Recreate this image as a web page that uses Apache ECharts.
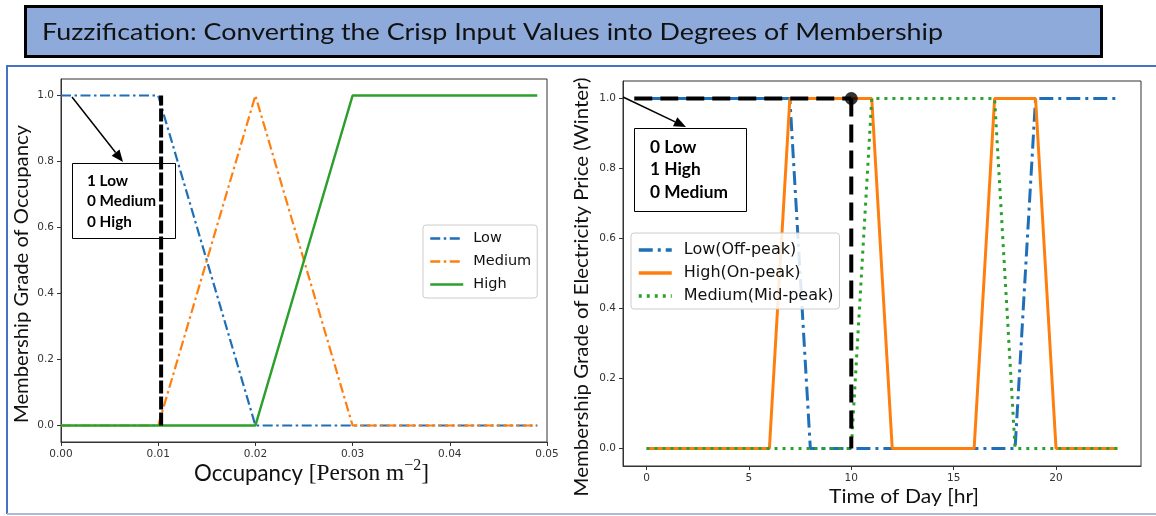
<!DOCTYPE html>
<html><head><meta charset="utf-8">
<script src="https://cdn.jsdelivr.net/npm/echarts@6/dist/echarts.min.js"></script>
<style>html,body{margin:0;padding:0;background:#fff}#c{width:1156px;height:516px}</style>
</head><body><div id="c"></div><script>
// ---------- data ----------
const titleText = 'Fuzzification: Converting the Crisp Input Values into Degrees of Membership';
const occupancyX = [0, 0.01, 0.02, 0.03, 0.049];
const occLow = [1, 1, 0, 0, 0];
const occMedium = [0, 0, 1, 0, 0];
const occHigh = [0, 0, 0, 1, 1];
const occInput = 0.0103;
const occNames = ['Low', 'Medium', 'High'];
const occTicksX = [0, 0.01, 0.02, 0.03, 0.04, 0.05];
const yTicks = [0, 0.2, 0.4, 0.6, 0.8, 1.0];
const hours = [0,1,2,3,4,5,6,7,8,9,10,11,12,13,14,15,16,17,18,19,20,21,22,23];
const priceLow = [1,1,1,1,1,1,1,1,0,0,0,0,0,0,0,0,0,0,0,1,1,1,1,1];
const priceHigh = [0,0,0,0,0,0,0,1,1,1,1,1,0,0,0,0,0,1,1,1,0,0,0,0];
const priceMedium = [0,0,0,0,0,0,0,0,0,0,0,1,1,1,1,1,1,1,0,0,0,0,0,0];
const hourInput = 10;
const hourLineStart = -0.6;
const priceNames = ['Low(Off-peak)', 'High(On-peak)', 'Medium(Mid-peak)'];
const hourTicks = [0, 5, 10, 15, 20];
const boxLeftLines = ['1 Low', '0 Medium', '0 High'];
const boxRightLines = ['0 Low', '1 High', '0 Medium'];

// ---------- helpers ----------
const mctx = document.createElement('canvas').getContext('2d');
function textW(t, font){ mctx.font = font; return mctx.measureText(t).width; }
function fit(t, weight, fam, target){ return 100 * target / textW(t, weight + ' 100px ' + fam); }
const SANS = 'Lato';
const BLUE = '#1f6fb8', ORANGE = '#ff7f0e', GREEN = '#2ca02c';

const graphics = [];
// outer frame
graphics.push({type:'polyline', shape:{points:[[1156,66],[7,66],[7,514]]}, style:{stroke:'#4472c4', lineWidth:2, fill:null}, z:1});
graphics.push({type:'line', shape:{x1:7,y1:514,x2:1156,y2:514}, style:{stroke:'#aebad6', lineWidth:2}, z:1});
// title
graphics.push({type:'rect', shape:{x:25.5,y:6.5,width:1076,height:50}, style:{fill:'#8eaadb', stroke:'#000', lineWidth:3}, z:1});

// text with a given font size, horizontally scaled to span a target width
function scaledText(t, size, weight, fam, target, x, y, align, rot){
  const w = textW(t, weight + ' ' + size + 'px ' + fam);
  const sx = target / w;
  graphics.push({type:'text', x:x, y:y, rotation:rot||0, scaleX:sx, scaleY:1,
    style:{text:t, font:weight+' '+size+'px '+fam, fill:'#111', textAlign:align, textVerticalAlign:'middle'}, z:2});
}
scaledText(titleText, 24, 'normal', SANS, 901, 42, 32, 'left');
scaledText('Membership Grade of Occupancy', 19.5, 'normal', SANS, 298, 22, 274, 'center', Math.PI/2);
scaledText('Membership Grade of Electricity Price (Winter)', 19, 'normal', SANS, 419, 582, 287, 'center', Math.PI/2);
scaledText('Time of Day [hr]', 19, 'normal', SANS, 150, 904, 497, 'center');
(function(){
  const pieces = [
    {t:'Occupancy ', fam:SANS, rel:1, dy:0},
    {t:'[Person m', fam:'Liberation Serif', rel:1.05, dy:0},
    {t:'\u22122', fam:'Liberation Serif', rel:0.72, dy:-0.36},
    {t:']', fam:'Liberation Serif', rel:1.05, dy:0}
  ];
  let tot = 0; pieces.forEach(p=>{ p.w = textW(p.t, (100*p.rel)+'px '+p.fam); tot += p.w; });
  const F = 235 / tot * 100; let x = 194;
  pieces.forEach(p=>{
    const fs = F*p.rel;
    graphics.push({type:'text', x:x, y:474 + p.dy*F, style:{text:p.t, font:'normal '+fs.toFixed(2)+'px '+p.fam, fill:'#111', textAlign:'left', textVerticalAlign:'middle'}, z:2});
    x += p.w * F/100;
  });
})();

// annotation boxes
function annot(x, y, w, h, lines, tx, ty0, dy, widest, widestW){
  graphics.push({type:'rect', shape:{x:x+0.5,y:y+0.5,width:w,height:h}, style:{fill:null, stroke:'#000', lineWidth:1}, z:1});
  const s = fit(widest, 'bold', SANS, widestW);
  lines.forEach((l,i)=>{
    graphics.push({type:'text', x:tx, y:ty0+i*dy, style:{text:l, font:'bold '+s.toFixed(2)+'px '+SANS, fill:'#000', textAlign:'left', textVerticalAlign:'middle'}, z:2});
  });
}
annot(72, 163, 103, 75, boxLeftLines, 87, 181, 20.5, '0 Medium', 69);
annot(634, 128, 112, 83, boxRightLines, 650, 147, 22.5, '0 Medium', 78);
function arrow(sx, sy, tx, ty){
  const dx = tx-sx, dy = ty-sy, L = Math.hypot(dx,dy), ux = dx/L, uy = dy/L, nx = -uy, ny = ux;
  const hl = 12, hw = 5;
  const bx = tx - hl*ux, by = ty - hl*uy;
  graphics.push({type:'line', shape:{x1:sx,y1:sy,x2:bx,y2:by}, style:{stroke:'#000', lineWidth:1.5}, z:3});
  graphics.push({type:'polygon', shape:{points:[[tx,ty],[bx+hw*nx,by+hw*ny],[bx-hw*nx,by-hw*ny]]}, style:{fill:'#000'}, z:3});
}
arrow(72, 97, 123, 162);
arrow(623, 97, 686, 127);

// ---------- axes ----------
const tickLbl = {fontSize:10.5, color:'#333', fontFamily:'DejaVu Sans', margin:7};
function xAxisCfg(grid, min, max, ticks, fmt){
  return {gridIndex:grid, type:'value', min:min, max:max,
    axisLine:{show:true, onZero:false, lineStyle:{color:'#333', width:1}},
    axisTick:{show:true, length:4, lineStyle:{color:'#333'}, customValues:ticks},
    axisLabel:Object.assign({customValues:ticks, formatter:fmt}, tickLbl),
    splitLine:{show:false}};
}
function yAxisCfg(grid){
  return {gridIndex:grid, type:'value', min:-0.05, max:1.05,
    axisLine:{show:true, onZero:false, lineStyle:{color:'#333', width:1}},
    axisTick:{show:true, length:4, lineStyle:{color:'#333'}, customValues:yTicks},
    axisLabel:Object.assign({customValues:yTicks, formatter:v=>v.toFixed(1)}, tickLbl),
    splitLine:{show:false}};
}

function lineSeries(name, xi, xs, ys, color, width, type, z){
  return {name:name, type:'line', xAxisIndex:xi, yAxisIndex:xi, data:xs.map((x,i)=>[x, ys[i]]),
    symbol:'none', showSymbol:false, silent:true, animation:false, z:z||2,
    lineStyle:{color:color, width:width, type:type}, itemStyle:{color:color}, emphasis:{disabled:true}};
}

const series = [
  lineSeries(occNames[0], 0, occupancyX, occLow, BLUE, 2.2, [10,3.5,2.5,3.5]),
  lineSeries(occNames[1], 0, occupancyX, occMedium, ORANGE, 2.2, [10,3.5,2.5,3.5]),
  lineSeries(occNames[2], 0, occupancyX, occHigh, GREEN, 2.5, 'solid'),
  lineSeries('occInput', 0, [occInput, occInput], [0, 1], '#000', 4, [13,3], 5),
  lineSeries(priceNames[0], 1, hours, priceLow, BLUE, 3, [14,5,3,5]),
  lineSeries(priceNames[1], 1, hours, priceHigh, ORANGE, 3, 'solid'),
  lineSeries(priceNames[2], 1, hours, priceMedium, GREEN, 3, [3,5]),
  lineSeries('hourH', 1, [hourLineStart, hourInput], [1, 1], '#000', 4, [18,8], 5),
  lineSeries('hourV', 1, [hourInput, hourInput], [1, 0], '#000', 4, [18,8], 5),
  {name:'dot', type:'scatter', xAxisIndex:1, yAxisIndex:1, data:[[hourInput, 1]], symbol:'circle', symbolSize:13,
   itemStyle:{color:'#000'}, silent:true, animation:false, z:6}
];

const legendBase = {orient:'vertical', itemWidth:33, itemHeight:14, backgroundColor:'rgba(255,255,255,0.85)',
  borderColor:'#cccccc', borderWidth:1, borderRadius:3, selectedMode:false,
  itemStyle:{opacity:0}};

const option = {
  animation:false,
  backgroundColor:'#ffffff',
  grid:[
    {left:61, top:79, width:486, height:363, show:true, borderColor:'#333', borderWidth:1, backgroundColor:'transparent'},
    {left:623, top:81, width:518, height:385, show:true, borderColor:'#333', borderWidth:1, backgroundColor:'transparent'}
  ],
  xAxis:[
    xAxisCfg(0, 0, 0.05, occTicksX, v=>v.toFixed(2)),
    xAxisCfg(1, -1.15, 24.15, hourTicks, v=>String(Math.round(v)))
  ],
  yAxis:[yAxisCfg(0), yAxisCfg(1)],
  legend:[
    Object.assign({}, legendBase, {data:occNames, left:423, top:225, itemGap:8, padding:[6,6,6,6],
      lineStyle:{width:2.5},
      textStyle:{fontFamily:'DejaVu Sans', fontSize:14.5, color:'#111', padding:[0,0,0,5]}}),
    Object.assign({}, legendBase, {data:priceNames, left:631, top:233, itemGap:7, padding:[9,6,5,6],
      lineStyle:{width:3.5},
      textStyle:{fontFamily:'DejaVu Sans', fontSize:16, color:'#111', padding:[0,0,0,7]}})
  ],
  series:series,
  graphic:{elements:graphics}
};
const chart = echarts.init(document.getElementById('c'), null, {renderer:'canvas'});
chart.setOption(option);
</script></body></html>
